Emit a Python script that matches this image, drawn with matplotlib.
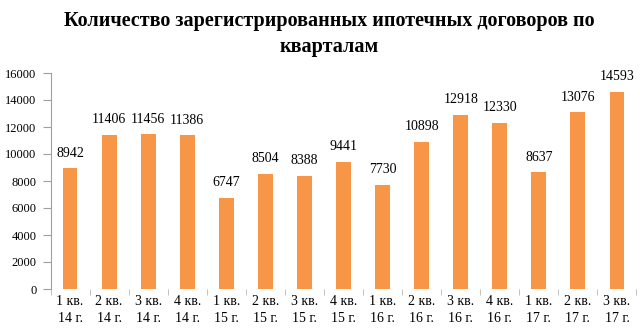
import matplotlib
matplotlib.use("Agg")
import matplotlib.pyplot as plt
import numpy as np

plt.rcParams['font.family'] = ['Liberation Serif', 'DejaVu Serif']

categories = ["1 кв.\n14 г.", "2 кв.\n14 г.", "3 кв.\n14 г.", "4 кв.\n14 г.",
              "1 кв.\n15 г.", "2 кв.\n15 г.", "3 кв.\n15 г.", "4 кв.\n15 г.",
              "1 кв.\n16 г.", "2 кв.\n16 г.", "3 кв.\n16 г.", "4 кв.\n16 г.",
              "1 кв.\n17 г.", "2 кв.\n17 г.", "3 кв.\n17 г."]
values = [8942, 11406, 11456, 11386, 6747, 8504, 8388, 9441, 7730, 10898,
          12918, 12330, 8637, 13076, 14593]
yticks = [0, 2000, 4000, 6000, 8000, 10000, 12000, 14000, 16000]
title = "Количество зарегистрированных ипотечных договоров по\nкварталам"

fig = plt.figure(figsize=6.4 * np.array([1, 332 / 640]), dpi=100)
ax = fig.add_axes([50.5 / 640, 1 - 289 / 332, 586 / 640, 216 / 332])

x = np.arange(len(values))
ax.bar(x, values, width=0.38, color='#F79646')
for xi, v in zip(x, values):
    ax.text(xi, v + 650, str(v), ha='center', va='bottom', fontsize=10)

ax.set_xlim(-0.5, len(values) - 0.5)
ax.set_ylim(0, 16000)
ax.set_yticks(yticks)
ax.set_yticklabels([str(t) for t in yticks], fontsize=9)
ax.set_xticks(x)
ax.set_xticklabels(categories, fontsize=10, linespacing=1.45)
ax.tick_params(axis='x', length=0, pad=4)
ax.set_xticks(np.arange(len(values) + 1) - 0.5, minor=True)
ax.tick_params(axis='x', which='minor', length=4, color='#B8B8B8', direction='out')
ax.tick_params(axis='y', length=6, color='#A0A0A0', pad=4)

for s in ['top', 'right', 'bottom']:
    ax.spines[s].set_visible(False)
ax.spines['left'].set_color('#A0A0A0')

fig.text(0.514, 1 - 34 / 332, title, ha='center', va='center', fontsize=14.5,
         fontweight='bold', linespacing=1.45)

fig.savefig("out.png", dpi=100)
